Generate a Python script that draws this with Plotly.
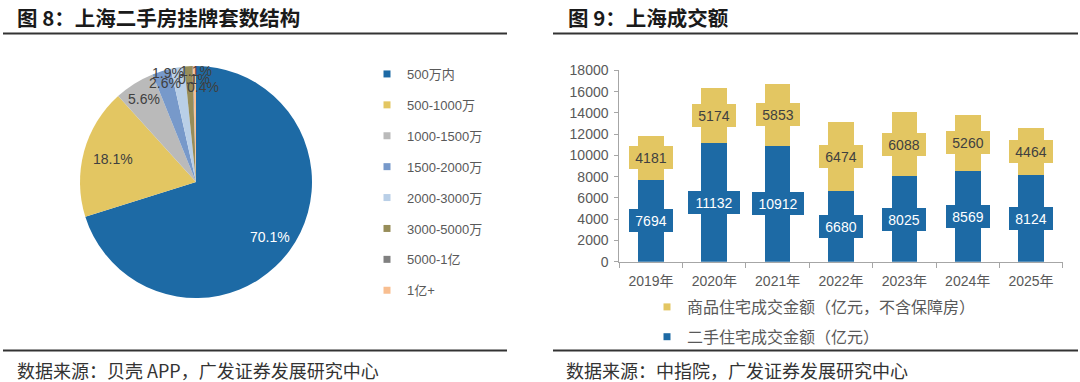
import math
import plotly.graph_objects as go

# ---------------- data ----------------
pie_labels = ["500万内", "500-1000万", "1000-1500万", "1500-2000万",
              "2000-3000万", "3000-5000万", "5000-1亿", "1亿+"]
pie_values = [70.1, 18.1, 5.6, 2.6, 1.9, 1.1, 0.1, 0.4]
pie_colors = ["#1D6AA5", "#E3C662", "#BABABA", "#7799CA",
              "#B9CFE7", "#978D59", "#808080", "#F8BE90"]

years = ["2019年", "2020年", "2021年", "2022年", "2023年", "2024年", "2025年"]
second_hand = [7694, 11132, 10912, 6680, 8025, 8569, 8124]
new_home = [4181, 5174, 5853, 6474, 6088, 5260, 4464]
bar_names = ["商品住宅成交金额（亿元，不含保障房）", "二手住宅成交金额（亿元）"]
BLUE = "#1D6AA5"
YELLOW = "#E3C662"

W, H = 1080, 382
LAB = "#595959"
NUMFONT = "Liberation Sans, Arial, Noto Sans CJK SC"
CJK = "Noto Sans CJK SC"

fig = go.Figure()

# ---------------- pie ----------------
pie_cx, pie_cy, pie_r = 196, 182, 116
fig.add_trace(go.Pie(
    labels=pie_labels, values=pie_values, sort=False, direction="clockwise", rotation=0,
    marker=dict(colors=pie_colors, line=dict(width=0)),
    textinfo="none", automargin=False,
    showlegend=False, hoverinfo="label+value",
    domain=dict(x=[(pie_cx - pie_r) / W, (pie_cx + pie_r) / W],
                y=[1 - (pie_cy + pie_r) / H, 1 - (pie_cy - pie_r) / H]),
))

# data labels placed on each slice's bisector (label placement styles)
lab_rfac = [0.795, 0.74, 0.84, 0.89, 0.97, 0.96, 0.89, 0.82]
lab_nudge = [0, 0, 0, 0, -5, 3.6, 0.3, 4.8]
lab_col = ["white"] + ["#404040"] * 7
annotations = []
total = sum(pie_values)
cum = 0.0
for v, rf, nd, c in zip(pie_values, lab_rfac, lab_nudge, lab_col):
    mid = (cum + v / 2) / total * 360 + nd
    cum += v
    px = pie_cx + rf * pie_r * math.sin(math.radians(mid))
    py = pie_cy - rf * pie_r * math.cos(math.radians(mid))
    annotations.append(dict(x=px / W, y=1 - py / H, xref="paper", yref="paper",
                            xanchor="center", yanchor="middle",
                            text=f"{v:.1f}%", showarrow=False,
                            font=dict(family=NUMFONT, size=14, color=c)))

# pie legend (dummy traces, one group each for spacing)
for i, (lab, col) in enumerate(zip(pie_labels, pie_colors)):
    fig.add_trace(go.Scatter(
        x=[None], y=[None], mode="markers", name=lab,
        marker=dict(symbol="square", size=7, color=col),
        legend="legend", legendgroup=f"p{i}", showlegend=True))

# ---------------- stacked bars ----------------
fig.add_trace(go.Bar(x=years, y=second_hand, marker=dict(color=BLUE, line=dict(width=0)),
                     width=0.405, showlegend=False, name=bar_names[1]))
fig.add_trace(go.Bar(x=years, y=new_home, marker=dict(color=YELLOW, line=dict(width=0)),
                     width=0.405, showlegend=False, name=bar_names[0]))

for i, (nm, col) in enumerate(zip(bar_names, [YELLOW, BLUE])):
    fig.add_trace(go.Scatter(
        x=[None], y=[None], mode="markers", name=nm,
        marker=dict(symbol="square", size=7, color=col),
        legend="legend2", legendgroup=f"b{i}", showlegend=True))

# value labels (boxed, centred on each segment)
for yr, a, b in zip(years, second_hand, new_home):
    for val, base, bg, fc in [(a, 0, BLUE, "white"), (b, a, YELLOW, "#404040")]:
        txt = str(val)
        annotations.append(dict(
            x=yr, y=base + val / 2, xref="x", yref="y", text=txt, showarrow=False,
            xanchor="center", yanchor="middle",
            font=dict(family=NUMFONT, size=14, color=fc),
            bgcolor=bg, borderpad=0, borderwidth=0,
            width=8 * len(txt) + 12, height=23))

# titles and sources
for x0, t in [(15, "图 8：上海二手房挂牌套数结构"), (566, "图 9：上海成交额")]:
    annotations.append(dict(x=x0 / W, y=1 - 17 / H, xref="paper", yref="paper",
                            xanchor="left", yanchor="middle", showarrow=False, text="<b>" + t + "</b>",
                            font=dict(family=CJK, size=20.5, color="#1A1A1A")))
for x0, t in [(15, "数据来源：贝壳 APP，广发证券发展研究中心"), (564, "数据来源：中指院，广发证券发展研究中心")]:
    annotations.append(dict(x=x0 / W, y=1 - 370 / H, xref="paper", yref="paper",
                            xanchor="left", yanchor="middle", showarrow=False, text=t,
                            font=dict(family=CJK, size=18, color="#333333")))

shapes = []
for (x0, x1) in [(3, 507), (553, 1078)]:
    for yy in (33.5, 350.5):
        shapes.append(dict(type="line", xref="paper", yref="paper",
                           x0=x0 / W, x1=x1 / W, y0=1 - yy / H, y1=1 - yy / H,
                           line=dict(color="#333333", width=1.8)))

fig.update_layout(
    template="none",
    width=W, height=H, margin=dict(l=0, r=0, t=0, b=0, autoexpand=False),
    paper_bgcolor="white", plot_bgcolor="white",
    barmode="stack", bargap=0.595,
    font=dict(family=NUMFONT, size=14, color=LAB),
    xaxis=dict(domain=[619.3 / W, 1062.7 / W], type="category", automargin=False,
               showline=True, linecolor="#A6A6A6", linewidth=1,
               ticks="outside", tickson="boundaries", ticklen=5, tickcolor="#A6A6A6",
               ticklabelstandoff=6,
               tickfont=dict(family=NUMFONT, size=14, color=LAB), showgrid=False, fixedrange=True),
    yaxis=dict(domain=[1 - 261.7 / H, 1 - 70.4 / H], range=[0, 18000], dtick=2000,
               tickformat="d", automargin=False,
               showline=True, linecolor="#A6A6A6", linewidth=1,
               ticks="outside", ticklen=4, tickcolor="#A6A6A6",
               ticklabelstandoff=3,
               tickfont=dict(family=NUMFONT, size=14, color=LAB), showgrid=False,
               zeroline=False, fixedrange=True),
    legend=dict(x=367 / W, y=1 - 59 / H, xanchor="left", yanchor="top",
                font=dict(family=NUMFONT, size=13, color=LAB), tracegroupgap=11,
                bgcolor="rgba(0,0,0,0)", itemsizing="trace", borderwidth=0),
    legend2=dict(x=647 / W, y=1 - 290 / H, xanchor="left", yanchor="top",
                 font=dict(family=CJK, size=16, color=LAB), tracegroupgap=6,
                 bgcolor="rgba(0,0,0,0)", itemsizing="trace", borderwidth=0),
    annotations=annotations, shapes=shapes,
)

fig.write_html("out.html", config={"displayModeBar": False},
               post_script="document.body.style.margin='0';")
